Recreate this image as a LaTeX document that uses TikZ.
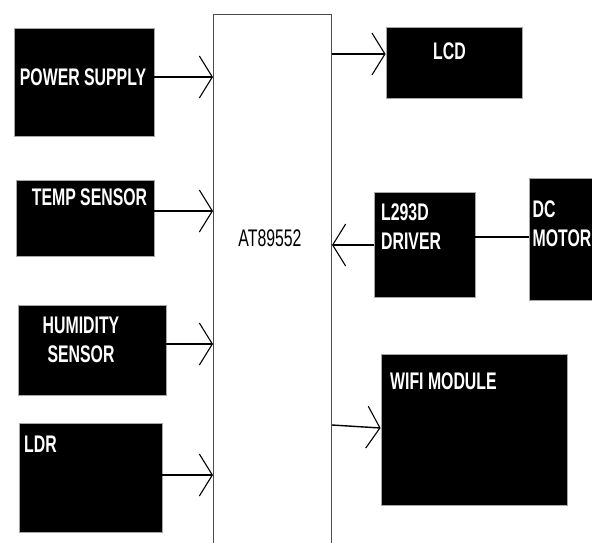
\documentclass[tikz,border=0pt]{standalone}
\usepackage{fontspec}
\newfontfamily\blockfont[FakeStretch=0.66]{Liberation Sans}
\usetikzlibrary{arrows.meta, positioning}

\tikzset{
  block/.style={fill=black, draw=black!35, line width=0.8pt, inner sep=0pt},
  blocktext/.style={text=white, font=\fontsize{24}{29}\selectfont\blockfont\bfseries, inner sep=0pt, align=left},
  sig/.style={line width=1.4pt, -{Straight Barb[length=13pt, width=42pt, line width=1.1pt]}},
}

\begin{document}
\begin{tikzpicture}[x=1pt, y=-1pt]

\path[fill=white] (0,0) rectangle (592,542);
\useasboundingbox (0,0) rectangle (592,542);

% controller
\node[draw=black!70, line width=1pt, minimum width=118pt, minimum height=546pt, anchor=north west, inner sep=0pt] (mcu) at (213,14) {};
\node[font=\fontsize{24}{29}\selectfont\blockfont, inner sep=0pt] (mcutext) at (270,238) {AT89552};

% inputs
\node[block, minimum width=140pt, minimum height=108pt] (power) at (84,82) {};
\node[block, minimum width=138pt, minimum height=76pt] (temp) at (85,218) {};
\node[block, minimum width=148pt, minimum height=90pt] (humid) at (92,350) {};
\node[block, minimum width=143pt, minimum height=109pt] (ldr) at (90.5,477.5) {};

\node[blocktext] (powertext) at (83,77) {POWER SUPPLY};
\node[blocktext] (temptext) at (89.5,197.5) {TEMP SENSOR};
\node[blocktext, align=center] (humidtext) at (81,340) {HUMIDITY\\SENSOR};
\node[blocktext, anchor=west] (ldrtext) at (24,444) {LDR};

% outputs
\node[block, minimum width=136pt, minimum height=71pt] (lcd) at (454,62.5) {};
\node[block, minimum width=101pt, minimum height=105pt] (driver) at (424.5,244.5) {};
\node[block, minimum width=80pt, minimum height=122pt, anchor=west] (motor) at (529,239) {};
\node[block, minimum width=186pt, minimum height=151pt] (wifi) at (474,429.5) {};

\node[blocktext] (lcdtext) at (449.5,51) {LCD};
\node[blocktext, anchor=west] (drivertext) at (381,226.5) {L293D\\DRIVER};
\node[blocktext, anchor=west] (motortext) at (532.5,223.5) {DC\\MOTOR};
\node[blocktext, anchor=west] (wifitext) at (390,381) {WIFI MODULE};

\draw[sig] (power.east |- 0,77) -- (mcu.west |- 0,77);
\draw[sig] (temp.east |- 0,211) -- (mcu.west |- 0,211);
\draw[sig] (humid.east |- 0,344) -- (mcu.west |- 0,344);
\draw[sig] (ldr.east |- 0,475) -- (mcu.west |- 0,475);

\draw[sig] (mcu.east |- 0,54) -- (lcd.west |- 0,54);
\draw[sig] (driver.west |- 0,245) -- (mcu.east |- 0,245);
\draw[line width=1.4pt] (driver.east |- 0,237) -- (motor.west |- 0,237);
\draw[sig] (mcu.east |- 0,425) -- (wifi.west |- 0,428);

\end{tikzpicture}
\end{document}
